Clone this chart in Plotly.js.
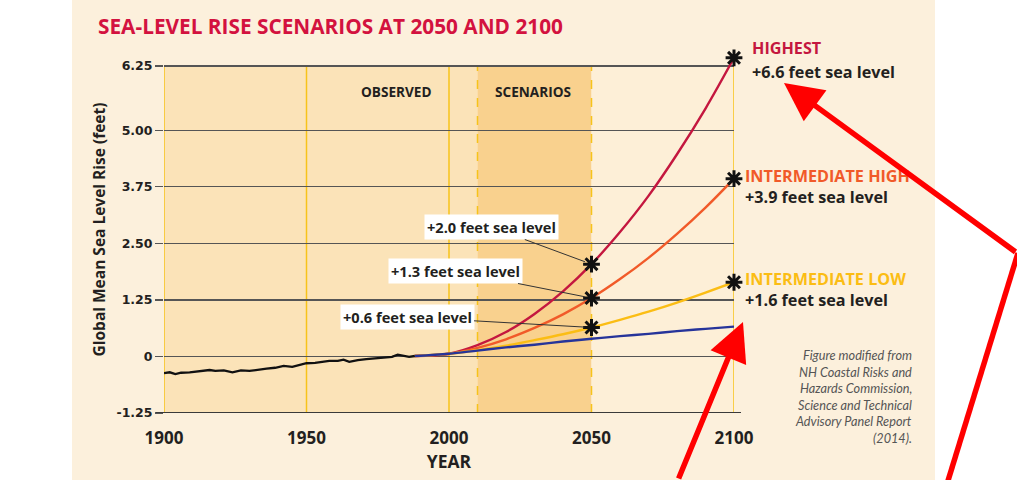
<!DOCTYPE html>
<html>
<head>
<meta charset="utf-8">
<script src="https://cdn.plot.ly/plotly-3.0.1.min.js"></script>
<style>html,body{margin:0;padding:0;background:#fff;}#chart{width:1017px;height:480px;}</style>
</head>
<body>
<div id="chart"></div>
<script>
// ---- Data ----
const obsYears = [1900,1902,1904,1906,1909,1913,1916,1918,1921,1924,1927,1930,1933,1936,1939,1942,1945,1948,1950,1953,1956,1958,1961,1963,1965,1968,1971,1974,1977,1980,1982,1984,1986,1988];
const obsValues = [-0.37,-0.35,-0.39,-0.36,-0.35,-0.32,-0.30,-0.32,-0.31,-0.35,-0.31,-0.32,-0.29,-0.27,-0.25,-0.21,-0.23,-0.18,-0.15,-0.14,-0.12,-0.10,-0.10,-0.07,-0.12,-0.08,-0.06,-0.04,-0.02,-0.01,0.04,0.02,-0.01,0.01];

const scenYears = [1988,2000,2010,2020,2030,2040,2050,2060,2070,2080,2090,2100];
const lowest = [0.01,0.06,0.13,0.20,0.26,0.33,0.39,0.45,0.50,0.56,0.61,0.66];
const intermediateLow = [0.01,0.06,0.14,0.24,0.36,0.49,0.64,0.81,0.99,1.19,1.41,1.64];
const intermediateHigh = [0.01,0.06,0.19,0.38,0.63,0.93,1.29,1.71,2.18,2.71,3.29,3.93];
const highest = [0.01,0.06,0.25,0.54,0.94,1.44,2.04,2.75,3.55,4.47,5.48,6.60];

const xTicks = [1900,1950,2000,2050,2100];
const yTickVals = [-1.25,0,1.25,2.5,3.75,5,6.42];
const yTickText = ['-1.25','0','1.25','2.50','3.75','5.00','6.25'];

const labels2050 = ['+2.0 feet sea level','+1.3 feet sea level','+0.6 feet sea level'];
const labels2100 = ['+6.6 feet sea level','+3.9 feet sea level','+1.6 feet sea level'];
const scenarioNames = ['HIGHEST','INTERMEDIATE HIGH','INTERMEDIATE LOW'];
const captionLines = ['Figure modified from','NH Coastal Risks and','Hazards Commission,','Science and Technical','Advisory Panel Report','(2014).'];

// ---- Layout helpers ----
const W = 1017, H = 480, L = 164, R = 734, B = 413;
const GRID_TOP_PX = 66, GRID_TOP = 6.42, Y_MIN = -1.25;
const yScale = (B - GRID_TOP_PX) / (GRID_TOP - Y_MIN);   // px per foot
const T = 46;                                             // plot top (leaves room above 6.42 gridline)
const Y_MAX = Y_MIN + (B - T) / yScale;
const xScale = (R - L) / 200;
const px = x => (x - L) / (R - L);
const py = y => (B - y) / (B - T);
const FONT = 'Open Sans, DejaVu Sans, sans-serif';
const DARK = '#231f20';

const idx2050 = scenYears.indexOf(2050);
const idx2100 = scenYears.indexOf(2100);
const scen = [highest, intermediateHigh, intermediateLow];
const scenColors = ['#c4173f', '#f15a29', '#fbbd14'];

const traces = [
  {x: scenYears, y: highest, mode: 'lines', line: {color: scenColors[0], width: 2.4, shape: 'spline'}, hoverinfo: 'skip'},
  {x: scenYears, y: intermediateHigh, mode: 'lines', line: {color: scenColors[1], width: 2.4, shape: 'spline'}, hoverinfo: 'skip'},
  {x: scenYears, y: intermediateLow, mode: 'lines', line: {color: scenColors[2], width: 2.4, shape: 'spline'}, hoverinfo: 'skip'},
  {x: scenYears, y: lowest, mode: 'lines', line: {color: '#26349a', width: 2.4, shape: 'spline'}, hoverinfo: 'skip'},
  {x: obsYears, y: obsValues, mode: 'lines', line: {color: '#111', width: 2.3}, hoverinfo: 'skip'},
  {x: [2050,2050,2050,2100,2100,2100],
   y: [highest[idx2050], intermediateHigh[idx2050], intermediateLow[idx2050], highest[idx2100], intermediateHigh[idx2100], intermediateLow[idx2100]],
   mode: 'markers', marker: {symbol: 'asterisk-open', size: 14, color: '#111', line: {color: '#111', width: 3}}, hoverinfo: 'skip', cliponaxis: false}
];

const shapes = [
  // cream page panel
  {type: 'rect', xref: 'paper', yref: 'paper', x0: px(72), x1: px(935), y0: py(480), y1: py(0), fillcolor: '#fcf0dc', line: {width: 0}, layer: 'below'},
  // plot background bands
  {type: 'rect', xref: 'x', yref: 'y', x0: 1900, x1: 2010, y0: Y_MIN, y1: GRID_TOP, fillcolor: '#fbe3b8', line: {width: 0}, layer: 'below'},
  {type: 'rect', xref: 'x', yref: 'y', x0: 2010, x1: 2050, y0: Y_MIN, y1: GRID_TOP, fillcolor: '#f9d18e', line: {width: 0}, layer: 'below'},
  {type: 'rect', xref: 'x', yref: 'y', x0: 2050, x1: 2100, y0: Y_MIN, y1: GRID_TOP, fillcolor: '#fdefd7', line: {width: 0}, layer: 'below'},
];
[1900, 1950, 2000, 2100].forEach(v => shapes.push({type: 'line', xref: 'x', yref: 'y', x0: v, x1: v, y0: Y_MIN, y1: GRID_TOP, line: {color: '#f7c31a', width: 1.5}, layer: 'below'}));
[2010, 2050].forEach(v => shapes.push({type: 'line', xref: 'x', yref: 'y', x0: v, x1: v, y0: Y_MIN, y1: GRID_TOP, line: {color: '#f7c31a', width: 1.5, dash: 'dash'}, layer: 'below'}));
// bottom baseline, slightly longer and heavier
shapes.push({type: 'line', xref: 'paper', yref: 'y', x0: px(156), x1: px(741), y0: Y_MIN, y1: Y_MIN, line: {color: '#3a3a3a', width: 2}, layer: 'above'});
// red hand-drawn polyline (first segment)
shapes.push({type: 'path', xref: 'paper', yref: 'paper', path: `M ${px(947)},${py(484)} L ${px(1018)},${py(253)}`, line: {color: '#ff0000', width: 5.5}, layer: 'above'});

const annotations = [
  {xref: 'paper', yref: 'paper', x: px(96), y: py(26), xanchor: 'left', yanchor: 'middle', showarrow: false,
   text: '<b>SEA-LEVEL RISE SCENARIOS AT 2050 AND 2100</b>', font: {family: FONT, size: 20.8, color: '#d3123f'}},
  {xref: 'paper', yref: 'paper', x: px(396), y: py(80), showarrow: false, text: '<b>OBSERVED</b>', font: {family: FONT, size: 13.6, color: DARK}},
  {xref: 'paper', yref: 'paper', x: px(533), y: py(80), showarrow: false, text: '<b>SCENARIOS</b>', font: {family: FONT, size: 13.6, color: DARK}},
];

// 2050 labels with leader lines (box centres in pixels)
const boxCenters = [[491, 227], [455, 271], [407, 317]];
labels2050.forEach((t, i) => {
  const tx = L + (2050 - 1900) * xScale;
  const ty = B - (scen[i][idx2050] - Y_MIN) * yScale;
  annotations.push({xref: 'x', yref: 'y', x: 2050, y: scen[i][idx2050],
    ax: boxCenters[i][0] - tx, ay: boxCenters[i][1] - ty,
    text: '<b>' + t + '</b>', showarrow: true, arrowhead: 0, arrowwidth: 1, arrowcolor: '#333',
    standoff: 7, bgcolor: '#ffffff', borderpad: 2, font: {family: FONT, size: 14.6, color: DARK}});
});

// right-side scenario labels
const nameY = [48, 176, 279], valY = [72, 197, 300], nameX = [750, 743, 743], valX = [750, 743, 743];
scenarioNames.forEach((n, i) => {
  annotations.push({xref: 'paper', yref: 'paper', x: px(nameX[i]), y: py(nameY[i]), xanchor: 'left', yanchor: 'middle', showarrow: false,
    text: '<b>' + n + '</b>', font: {family: FONT, size: 16.2, color: scenColors[i]}});
  annotations.push({xref: 'paper', yref: 'paper', x: px(valX[i]), y: py(valY[i]), xanchor: 'left', yanchor: 'middle', showarrow: false,
    text: '<b>' + labels2100[i] + '</b>', font: {family: FONT, size: 16.2, color: DARK}});
});

// caption
captionLines.forEach((c, i) => {
  annotations.push({xref: 'paper', yref: 'paper', x: px(914), y: py(355 + i * 16.6), xanchor: 'right', yanchor: 'middle', showarrow: false,
    text: '<i>' + c + '</i>', font: {family: 'Lato, sans-serif', size: 12.7, color: '#555'}});
});

// red arrows
annotations.push({xref: 'paper', yref: 'paper', x: px(784), y: py(83), ax: 1018 - 784, ay: 253 - 83, text: '', showarrow: true,
  arrowhead: 2, arrowsize: 1.4, arrowwidth: 5.5, arrowcolor: '#ff0000', startstandoff: 0, standoff: 0});
annotations.push({xref: 'paper', yref: 'paper', x: px(743), y: py(322), ax: 678 - 743, ay: 490 - 322, text: '', showarrow: true,
  arrowhead: 2, arrowsize: 1.4, arrowwidth: 5.5, arrowcolor: '#ff0000', startstandoff: 0, standoff: 0});

const layout = {
  width: W, height: H,
  margin: {l: L, r: W - R, t: T, b: H - B, pad: 0},
  paper_bgcolor: '#ffffff', plot_bgcolor: 'rgba(0,0,0,0)',
  showlegend: false,
  font: {family: FONT, color: DARK},
  xaxis: {range: [1900, 2100], tickvals: xTicks, showgrid: false, zeroline: false, showline: false,
    ticks: 'outside', ticklen: 10, tickcolor: 'rgba(0,0,0,0)',
    tickfont: {family: FONT, size: 17, color: DARK, weight: 'bold'},
    title: {text: '<b>YEAR</b>', font: {family: FONT, size: 17.5, color: DARK}, standoff: 0}},
  yaxis: {range: [Y_MIN, Y_MAX], tickvals: yTickVals, ticktext: yTickText, showgrid: true, gridcolor: '#555', gridwidth: 1.3,
    zeroline: false, showline: false, ticks: 'outside', ticklen: 8, tickcolor: '#555', tickwidth: 1.3,
    tickfont: {family: 'DejaVu Sans, sans-serif', size: 12.5, color: DARK, weight: 'bold'},
    title: {text: '<b>Global Mean Sea Level Rise (feet)</b>', font: {family: FONT, size: 15.5, color: DARK}, standoff: 7}},
  shapes: shapes,
  annotations: annotations
};

Plotly.newPlot('chart', traces, layout, {staticPlot: true, displayModeBar: false});
</script>
</body>
</html>
